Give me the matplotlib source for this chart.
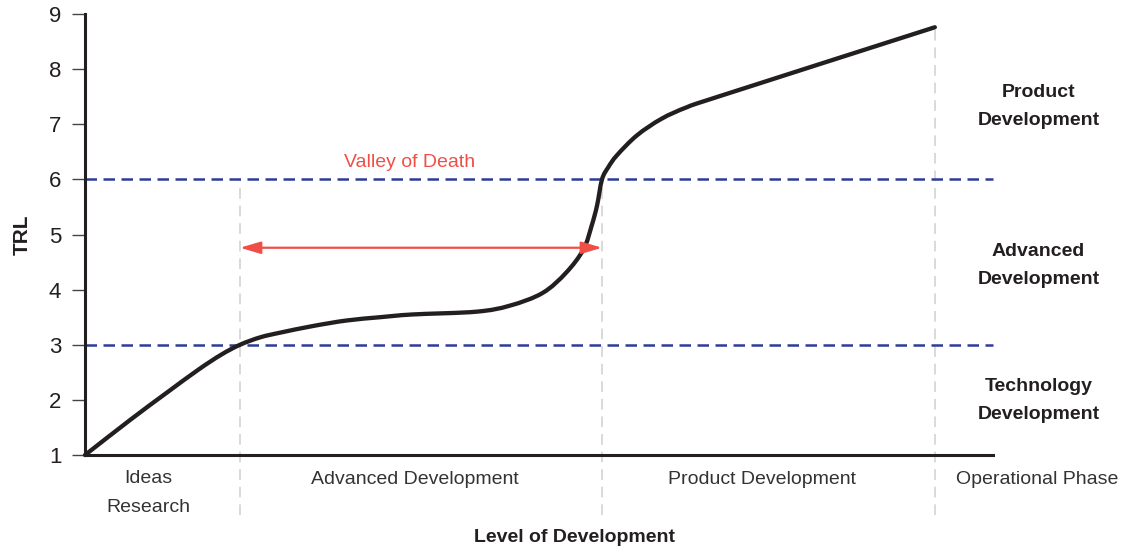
"""Technology readiness curve with the valley of death between TRL 3 and 6."""

from __future__ import annotations

import matplotlib as mpl
import matplotlib.pyplot as plt
import numpy as np
from matplotlib.patches import FancyArrowPatch, PathPatch
from matplotlib.path import Path

# development progress (arbitrary units) against TRL
CURVE_X = [0, 0.5, 0.9, 1.25, 1.5, 1.707, 1.93, 2.15, 2.51, 2.88, 3.25, 3.61, 4.31, 4.68,
           5.04, 5.30, 5.49, 5.58, 5.64, 5.694, 5.763, 5.86, 6.08, 6.35, 6.63, 6.99, 9.36]
CURVE_Y = [1, 1.64, 2.13, 2.55, 2.82, 3.0, 3.135, 3.22, 3.34, 3.44, 3.50, 3.55, 3.60, 3.71,
           3.94, 4.31, 4.73, 5.16, 5.53, 6.0, 6.22, 6.44, 6.80, 7.10, 7.31, 7.51, 8.76]

TRL_TICKS = [1, 2, 3, 4, 5, 6, 7, 8, 9]
TRL_THRESHOLDS = [3, 6]
PHASE_BOUNDS = [1.707, 5.694, 9.36]
PHASE_NAMES = ["Ideas\nResearch", "Advanced Development", "Product Development", "Operational Phase"]
PHASE_CENTERS = [0.70, 3.63, 7.46, 10.49]
STAGE_NAMES = ["Product\nDevelopment", "Advanced\nDevelopment", "Technology\nDevelopment"]
STAGE_LEVELS = [7.33, 4.44, 1.99]
VALLEY_LABEL = "Valley of Death"
VALLEY_LEVEL = 4.76

INK = "#231f20"
BLUE = "#2f3c96"
RED = "#ef4f47"
GRAY = "#cfcfcf"
FONT = ["Liberation Sans", "DejaVu Sans"]


def smooth_path(xs: list[float], ys: list[float]) -> Path:
    # Catmull-Rom through the read points, written as cubic Bezier segments
    pts = np.column_stack([xs, ys]).astype(float)
    padded = np.vstack([2 * pts[0] - pts[1], pts, 2 * pts[-1] - pts[-2]])
    verts = [pts[0]]
    codes = [Path.MOVETO]
    for i in range(len(pts) - 1):
        p0, p1, p2, p3 = padded[i], padded[i + 1], padded[i + 2], padded[i + 3]
        verts += [p1 + (p2 - p0) / 6, p2 - (p3 - p1) / 6, p2]
        codes += [Path.CURVE4] * 3
    return Path(verts, codes)


def plot_trl(output: str) -> None:
    mpl.rcParams.update({"font.family": FONT, "font.size": 14, "text.color": INK})
    fig = plt.figure(figsize=(11.23, 5.5), dpi=100)
    ax = fig.add_axes([0.0757, 0.1727, 0.8085, 0.8018])
    ax.set_xlim(0, 10)
    ax.set_ylim(1, 9)

    for level in TRL_THRESHOLDS:
        ax.plot([0, 10], [level, level], color=BLUE, linewidth=1.8,
                linestyle=(0, (4.6, 2.6)), zorder=2, clip_on=False)

    tops = [TRL_THRESHOLDS[-1], TRL_THRESHOLDS[-1], CURVE_Y[-1]]
    for xb, top in zip(PHASE_BOUNDS, tops):
        ax.plot([xb, xb], [-0.09, top], color=GRAY, linewidth=1.1,
                linestyle=(0, (7, 4.5)), zorder=1, clip_on=False)

    curve = PathPatch(smooth_path(CURVE_X, CURVE_Y), fill=False, edgecolor=INK,
                      linewidth=3.1, joinstyle="round", capstyle="round", zorder=4,
                      clip_on=False)
    ax.add_patch(curve)

    arrow = FancyArrowPatch((PHASE_BOUNDS[0], VALLEY_LEVEL), (PHASE_BOUNDS[1], VALLEY_LEVEL),
                            arrowstyle="<|-|>,head_length=1.25,head_width=0.37",
                            mutation_scale=10, color=RED, linewidth=1.6,
                            shrinkA=0, shrinkB=0, zorder=5)
    ax.add_patch(arrow)
    ax.text(3.58, 6.31, VALLEY_LABEL, color=RED, ha="center", va="center")

    for name, xc in zip(PHASE_NAMES, PHASE_CENTERS):
        ax.text(xc, 0.31 if "\n" in name else 0.56, name, ha="center", va="center",
                color="#333333", linespacing=1.9, clip_on=False)
    for name, level in zip(STAGE_NAMES, STAGE_LEVELS):
        ax.text(10.50, level, name, ha="center", va="center", fontweight="bold",
                linespacing=1.85, clip_on=False)

    ax.text(5.39, -0.49, "Level of Development", ha="center", va="center",
            fontweight="bold", clip_on=False)
    ax.text(-0.069, 0.5, "TRL", transform=ax.transAxes, rotation=90, ha="center",
            va="center", fontweight="bold", rotation_mode="anchor", fontsize=15)

    for side in ("top", "right"):
        ax.spines[side].set_visible(False)
    for side in ("left", "bottom"):
        ax.spines[side].set_color(INK)
        ax.spines[side].set_linewidth(2.2)
    ax.set_xticks([])
    ax.set_yticks(TRL_TICKS)
    ax.tick_params(axis="y", direction="out", length=9.6, width=1.0, color="#444444",
                   pad=7.5, labelcolor=INK, labelsize=16)

    fig.savefig(output, dpi=100)
    plt.close(fig)


def main() -> None:
    plot_trl("out.png")


if __name__ == "__main__":
    main()
